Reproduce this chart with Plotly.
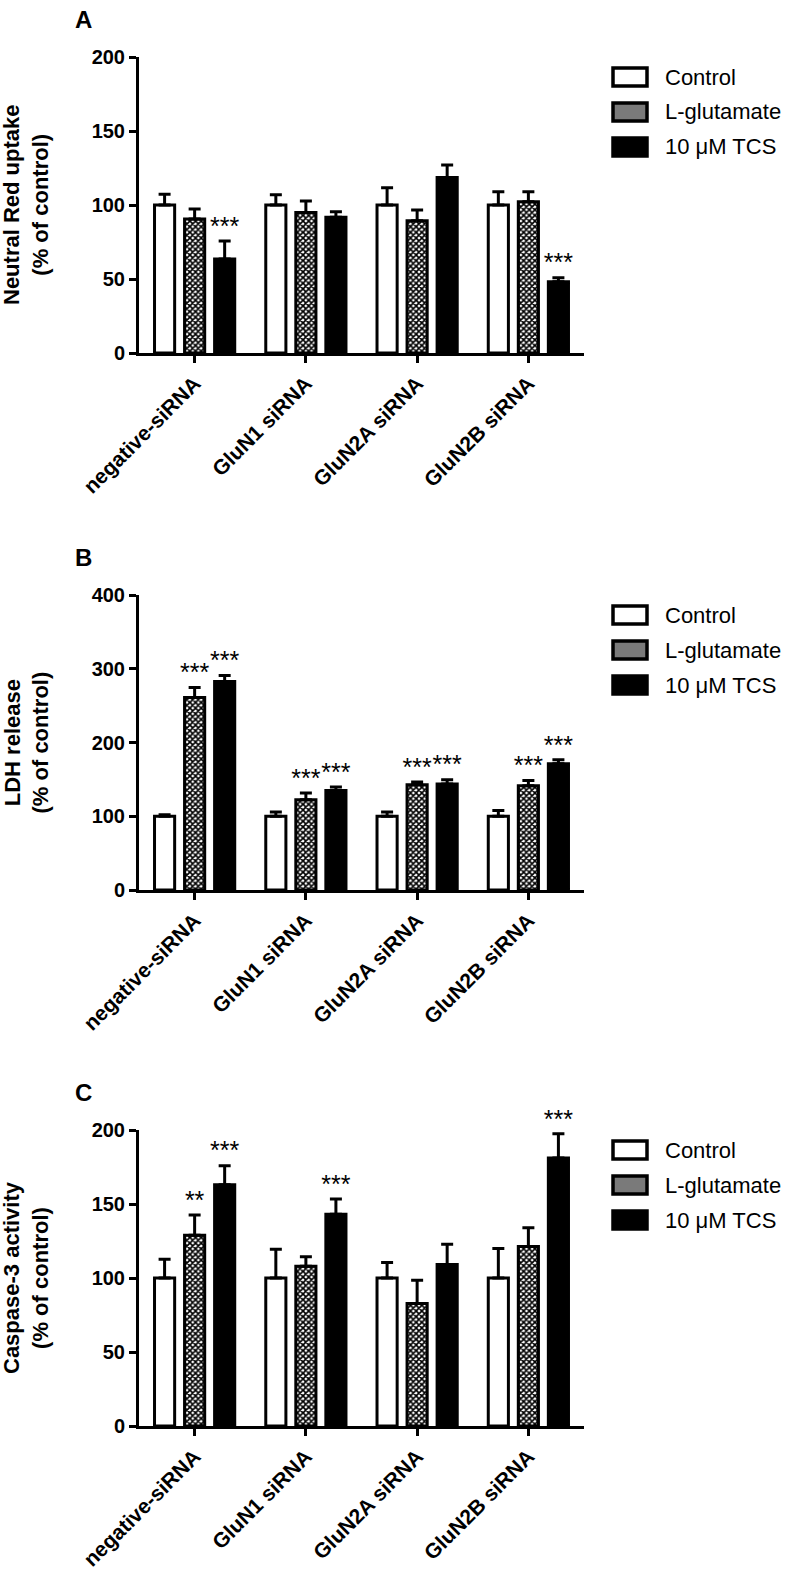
import plotly.graph_objects as go

W, H = 788, 1574

categories = ["negative-siRNA", "GluN1 siRNA", "GluN2A siRNA", "GluN2B siRNA"]
series_names = ["Control", "L-glutamate", "10 \u03bcM TCS"]

# ---- Panel A: Neutral Red uptake (% of control)
a_control = [100, 100, 100, 100]
a_control_err = [7.2, 7.0, 11.7, 9.0]
a_glut = [90.5, 95.0, 89.4, 102.2]
a_glut_err = [6.8, 7.7, 7.2, 6.8]
a_tcs = [63.5, 91.7, 118.5, 48.2]
a_tcs_err = [12.2, 3.8, 8.5, 2.7]
a_control_sig = ["", "", "", ""]
a_glut_sig = ["", "", "", ""]
a_tcs_sig = ["***", "", "", "***"]

# ---- Panel B: LDH release (% of control)
b_control = [100, 100, 100, 100]
b_control_err = [2.0, 5.7, 5.7, 7.9]
b_glut = [261, 122.4, 142.7, 141.3]
b_glut_err = [13.5, 9.0, 3.6, 7.2]
b_tcs = [282.7, 135.0, 143.6, 171.1]
b_tcs_err = [8.1, 4.6, 5.9, 5.5]
b_control_sig = ["", "", "", ""]
b_glut_sig = ["***", "***", "***", "***"]
b_tcs_sig = ["***", "***", "***", "***"]

# ---- Panel C: Caspase-3 activity (% of control)
c_control = [100, 100, 100, 100]
c_control_err = [12.6, 19.4, 10.4, 20.0]
c_glut = [128.9, 108.0, 82.8, 121.2]
c_glut_err = [13.6, 6.4, 15.6, 12.7]
c_tcs = [163.0, 143.1, 109.2, 181.1]
c_tcs_err = [12.9, 10.2, 13.6, 16.3]
c_control_sig = ["", "", "", ""]
c_glut_sig = ["**", "", "", ""]
c_tcs_sig = ["***", "***", "", "***"]

y_titles = ["Neutral Red uptake<br>(% of control)",
            "LDH release<br>(% of control)",
            "Caspase-3 activity<br>(% of control)"]
panel_letters = ["A", "B", "C"]
y_ranges = [[0, 200], [0, 400], [0, 200]]
y_dticks = [50, 100, 50]

FONT = "Liberation Sans, Arial, Helvetica, sans-serif"


def px(x):
    return x / W


def py(y):
    return 1 - y / H


# plot-area geometry in page pixels (top, bottom)
panel_px = [(57, 353), (595, 890), (1130, 1426)]
x_left, x_right = 139, 584

panels = [
    (a_control, a_control_err, a_glut, a_glut_err, a_tcs, a_tcs_err,
     a_control_sig, a_glut_sig, a_tcs_sig),
    (b_control, b_control_err, b_glut, b_glut_err, b_tcs, b_tcs_err,
     b_control_sig, b_glut_sig, b_tcs_sig),
    (c_control, c_control_err, c_glut, c_glut_err, c_tcs, c_tcs_err,
     c_control_sig, c_glut_sig, c_tcs_sig),
]

styles = [
    dict(color="white", line=dict(color="black", width=3)),
    dict(color="white", line=dict(color="black", width=3),
         pattern=dict(shape="x", size=4, solidity=0.65,
                      fgcolor="black", bgcolor="white")),
    dict(color="black", line=dict(color="black", width=3)),
]

fig = go.Figure()
layout = dict(
    template="none",
    width=W, height=H, autosize=False,
    margin=dict(l=0, r=0, t=0, b=0, pad=0, autoexpand=False),
    paper_bgcolor="white", plot_bgcolor="white",
    barmode="group", bargap=0.19, bargroupgap=0.33,
    scattermode="group", scattergap=0.19,
    showlegend=False,
    font=dict(family=FONT, color="black"),
)

annotations = []
shapes = []

for p, data in enumerate(panels):
    means = [data[0], data[2], data[4]]
    errs = [data[1], data[3], data[5]]
    sigs = [data[6], data[7], data[8]]
    xa = "x" if p == 0 else f"x{p+1}"
    ya = "y" if p == 0 else f"y{p+1}"
    for s in range(3):
        fig.add_trace(go.Bar(
            x=categories, y=means[s], name=series_names[s],
            xaxis=xa, yaxis=ya, offsetgroup=str(s),
            marker=styles[s],
            error_y=dict(type="data", array=errs[s],
                         arrayminus=[0] * len(errs[s]), symmetric=False,
                         color="black", thickness=3, width=6),
        ))
    for s in range(3):
        fig.add_trace(go.Scatter(
            x=categories,
            y=[m + e for m, e in zip(means[s], errs[s])],
            text=sigs[s], mode="text", textposition="top center",
            textfont=dict(family=FONT, size=25, color="black"),
            xaxis=xa, yaxis=ya, offsetgroup=str(s),
            cliponaxis=False, hoverinfo="skip",
        ))
    top, bot = panel_px[p]
    xkey = "xaxis" if p == 0 else f"xaxis{p+1}"
    ykey = "yaxis" if p == 0 else f"yaxis{p+1}"
    layout[xkey] = dict(
        domain=[px(x_left), px(x_right)], anchor=ya, automargin=False,
        type="category", range=[-0.5, 3.5],
        showline=True, linewidth=3, linecolor="black",
        ticks="outside", ticklen=7, tickwidth=3, tickcolor="black",
        tickangle=-45, showgrid=False, zeroline=False,
        tickfont=dict(family=FONT, size=21, color="black", weight="bold"),
    )
    layout[ykey] = dict(
        domain=[py(bot), py(top)], anchor=xa, automargin=False,
        range=y_ranges[p], dtick=y_dticks[p], tick0=0,
        showline=True, linewidth=3, linecolor="black",
        ticks="outside", ticklen=7, tickwidth=3, tickcolor="black",
        showgrid=False, zeroline=False,
        tickfont=dict(family=FONT, size=20, color="black", weight="bold"),
    )
    # y-axis title
    annotations.append(dict(
        xref="paper", yref="paper", x=px(26), y=py((top + bot) / 2),
        xanchor="center", yanchor="middle", textangle=-90,
        text=y_titles[p], showarrow=False,
        font=dict(family=FONT, size=22, color="black", weight="bold"),
    ))
    # panel letter
    annotations.append(dict(
        xref="paper", yref="paper", x=px(73), y=py(top - 38),
        xanchor="left", yanchor="middle",
        text=panel_letters[p], showarrow=False,
        font=dict(family=FONT, size=24, color="black", weight="bold"),
    ))
    # legend
    fills = ["white", "#7a7a7a", "black"]
    for s in range(3):
        cy = top + 20 + 35 * s
        shapes.append(dict(
            type="rect", xref="paper", yref="paper",
            x0=px(613), x1=px(647), y0=py(cy + 9), y1=py(cy - 9),
            fillcolor=fills[s], line=dict(color="black", width=3.5),
        ))
        annotations.append(dict(
            xref="paper", yref="paper", x=px(663), y=py(cy),
            xanchor="left", yanchor="middle",
            text=series_names[s], showarrow=False,
            font=dict(family=FONT, size=22, color="black"),
        ))

layout["annotations"] = annotations
layout["shapes"] = shapes
fig.update_layout(**layout)
fig.write_html(
    "out.html",
    config={"displayModeBar": False},
    post_script="document.body.style.margin='0px';"
                "document.body.style.padding='0px';",
)
